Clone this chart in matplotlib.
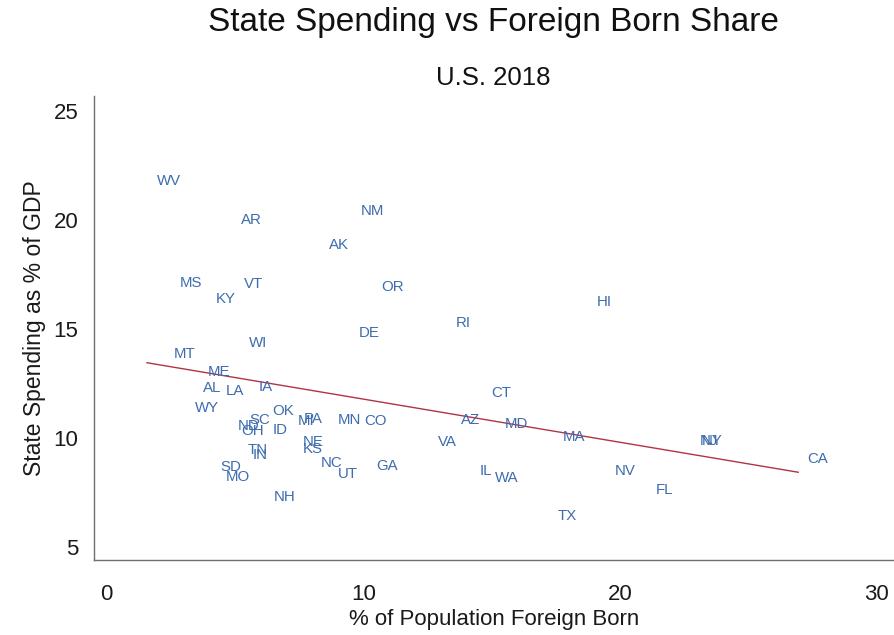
import matplotlib
matplotlib.use("Agg")
import matplotlib.pyplot as plt

plt.rcParams['font.family'] = ['Liberation Sans', 'DejaVu Sans']

states = ["WV", "AR", "NM", "AK", "MS", "VT", "KY", "OR", "HI", "RI", "DE", "WI",
          "MT", "ME", "AL", "LA", "IA", "CT", "WY", "OK", "SC", "ND", "OH", "ID",
          "PA", "MI", "MN", "CO", "AZ", "MD", "MA", "VA", "NJ", "NY", "NE", "KS",
          "TN", "IN", "NC", "GA", "SD", "MO", "UT", "IL", "WA", "NV", "FL", "CA",
          "NH", "TX"]
foreign_born = [2.42, 5.65, 10.36, 9.04, 3.28, 5.73, 4.64, 11.14, 19.39, 13.90, 10.21, 5.89,
                3.05, 4.37, 4.10, 4.99, 6.20, 15.38, 3.90, 6.86, 5.96, 5.54, 5.69, 6.74,
                8.03, 7.75, 9.47, 10.48, 14.17, 15.96, 18.22, 13.28, 23.45, 23.60, 8.03, 8.03,
                5.89, 5.96, 8.77, 10.94, 4.84, 5.11, 9.39, 14.76, 15.58, 20.21, 21.72, 27.68,
                6.94, 17.95]
spending = [21.81, 20.02, 20.43, 18.87, 17.12, 17.08, 16.39, 16.94, 16.25, 15.28, 14.82, 14.36,
            13.86, 13.03, 12.29, 12.16, 12.34, 12.06, 11.37, 11.24, 10.82, 10.55, 10.32, 10.36,
            10.87, 10.78, 10.82, 10.78, 10.82, 10.64, 10.04, 9.81, 9.86, 9.86, 9.81, 9.49,
            9.44, 9.21, 8.85, 8.71, 8.66, 8.20, 8.34, 8.48, 8.16, 8.48, 7.60, 9.03,
            7.28, 6.41]

trend_x = [1.57, 26.94]
trend_y = [13.45, 8.42]

x_ticks = [0, 10, 20, 30]
y_ticks = [5, 10, 15, 20, 25]

fig = plt.figure(figsize=(8.94, 6.35), dpi=100)
ax = fig.add_axes([93.5 / 894, 75 / 635, 800.5 / 894, 464 / 635])

ax.plot(trend_x, trend_y, color="#B03444", linewidth=1.0, zorder=1)
for s, x, y in zip(states, foreign_born, spending):
    ax.text(x, y, s, color="#3D6CAF", fontsize=10.8, ha="center", va="center", zorder=2)

ax.set_xlim(-0.514, 30.67)
ax.set_ylim(4.39, 25.70)
ax.set_xticks(x_ticks)
ax.set_yticks(y_ticks)
ax.tick_params(axis="both", length=0, labelsize=16, colors="#1a1a1a")
ax.tick_params(axis="x", pad=17)
ax.tick_params(axis="y", pad=11)

for side in ["top", "right"]:
    ax.spines[side].set_visible(False)
for side in ["left", "bottom"]:
    ax.spines[side].set_color("#6e6e6e")
    ax.spines[side].set_linewidth(1.0)

ax.set_xlabel("% of Population Foreign Born", fontsize=16, color="#1a1a1a", labelpad=3)
ax.set_ylabel("State Spending as % of GDP", fontsize=16.5, color="#1a1a1a", labelpad=5)

cx = (93.5 + 894) / 2 / 894
fig.text(cx, 1 - 22 / 635, "State Spending vs Foreign Born Share", fontsize=24,
         ha="center", va="center", color="#111111")
fig.text(cx, 1 - 78 / 635, "U.S. 2018", fontsize=18.5, ha="center", va="center", color="#111111")

fig.savefig("out.png", dpi=100)
